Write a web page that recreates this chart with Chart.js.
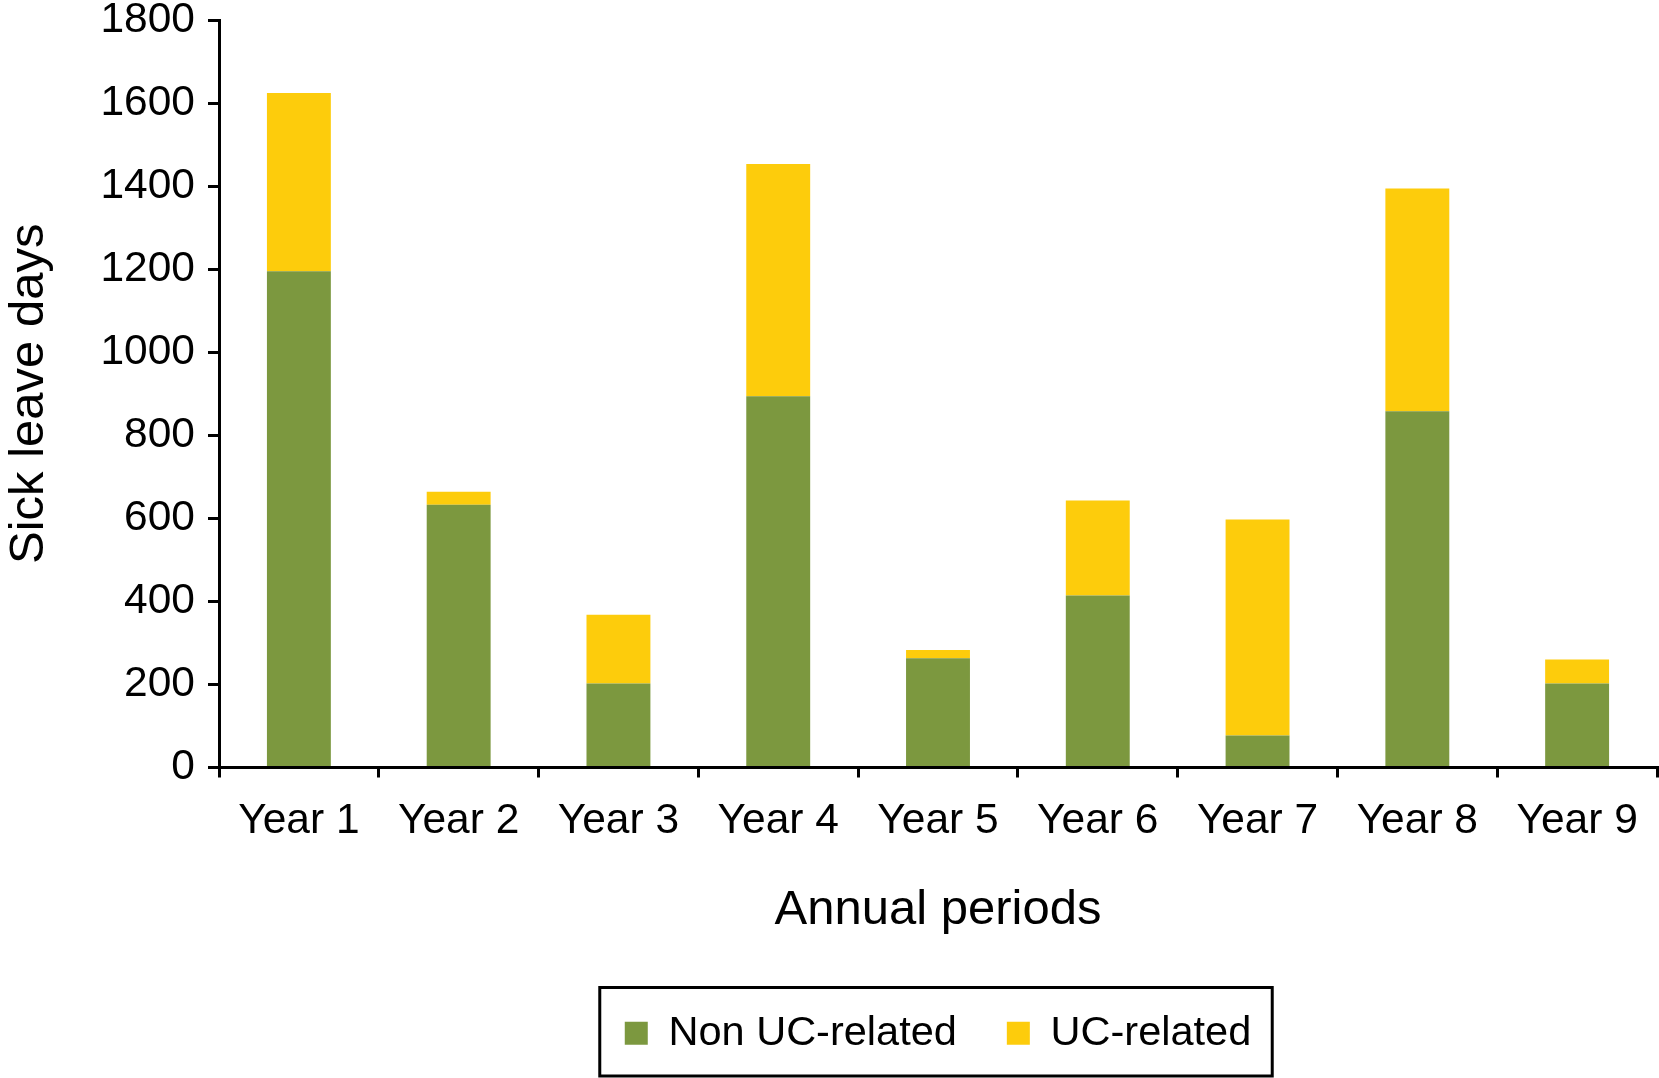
<!DOCTYPE html>
<html>
<head>
<meta charset="utf-8">
<script src="https://cdn.jsdelivr.net/npm/chart.js@4"></script>
<style>
  html, body { margin: 0; padding: 0; background: #fff; }
  #wrap { width: 1659px; height: 1078px; }
</style>
</head>
<body>
<div id="wrap"><canvas id="c" width="1659" height="1078"></canvas></div>
<script>
const categories = ["Year 1", "Year 2", "Year 3", "Year 4", "Year 5", "Year 6", "Year 7", "Year 8", "Year 9"];
const nonUcRelated = [1195, 633, 202, 894, 263, 414, 77, 858, 202];
const ucTotals = [1624, 664, 368, 1453, 283, 643, 597, 1394, 260];
const ucRelated = ucTotals.map((t, i) => t - nonUcRelated[i]);
const yTicks = [0, 200, 400, 600, 800, 1000, 1200, 1400, 1600, 1800];

const FONT = "'Liberation Sans', Arial, Helvetica, sans-serif";
const GREEN = "#7c983f";
const YELLOW = "#fdcc0c";

const legendBorder = {
  id: "legendBorder",
  afterDraw(chart) {
    const lg = chart.legend;
    if (!lg || !lg.legendHitBoxes || !lg.legendHitBoxes.length) return;
    const hb = lg.legendHitBoxes;
    let minX = Infinity, maxX = -Infinity, minY = Infinity, maxY = -Infinity;
    hb.forEach(b => {
      minX = Math.min(minX, b.left); maxX = Math.max(maxX, b.left + b.width);
      minY = Math.min(minY, b.top); maxY = Math.max(maxY, b.top + b.height);
    });
    const ctx = chart.ctx;
    ctx.save();
    ctx.strokeStyle = "#000";
    ctx.lineWidth = 3;
    ctx.strokeRect(minX - 25, minY - 25, (maxX - minX) + 46, (maxY - minY) + 47);
    ctx.restore();
  }
};

new Chart(document.getElementById("c"), {
  type: "bar",
  data: {
    labels: categories,
    datasets: [
      { label: "Non UC-related", data: nonUcRelated, backgroundColor: GREEN, borderWidth: 0 },
      { label: "UC-related", data: ucRelated, backgroundColor: YELLOW, borderWidth: 0 }
    ]
  },
  options: {
    responsive: false,
    animation: false,
    devicePixelRatio: 1,
    barPercentage: 0.4,
    categoryPercentage: 1.0,
    layout: { padding: { left: 0, right: 2, top: 0, bottom: 14 } },
    plugins: {
      tooltip: { enabled: false },
      legend: {
        position: "bottom",
        fullSize: false,
        labels: {
          color: "#000",
          font: { family: FONT, size: 41.5 },
          boxWidth: 23,
          boxHeight: 23,
          padding: 50
        }
      }
    },
    scales: {
      x: {
        stacked: true,
        afterFit: s => { s.height = 195; s.paddingLeft = 0; s.paddingRight = 0; },
        border: { display: true, color: "#000", width: 3 },
        grid: { display: true, offset: true, drawOnChartArea: false, drawTicks: true, tickLength: 10, color: "#000", lineWidth: 3 },
        ticks: { color: "#000", font: { family: FONT, size: 42.5, lineHeight: 1.0 }, padding: 23, maxRotation: 0 },
        title: { display: true, text: "Annual periods", color: "#000", font: { family: FONT, size: 49 }, padding: { top: 0, bottom: 23 } }
      },
      y: {
        stacked: true,
        min: 0,
        max: 1800,
        afterFit: s => { s.width = 219; s.paddingTop = 20; s.paddingBottom = 0; },
        afterBuildTicks: s => { s.ticks = yTicks.map(v => ({ value: v })); },
        border: { display: true, color: "#000", width: 3 },
        grid: { display: true, drawOnChartArea: false, drawTicks: true, tickLength: 11, color: "#000", lineWidth: 3 },
        ticks: { color: "#000", font: { family: FONT, size: 42.5, lineHeight: 1.0 }, padding: 13, callback: v => String(v) },
        title: { display: true, text: "Sick leave days", color: "#000", font: { family: FONT, size: 49 }, padding: { top: 0, bottom: 0 } }
      }
    }
  },
  plugins: [legendBorder]
});
</script>
</body>
</html>
